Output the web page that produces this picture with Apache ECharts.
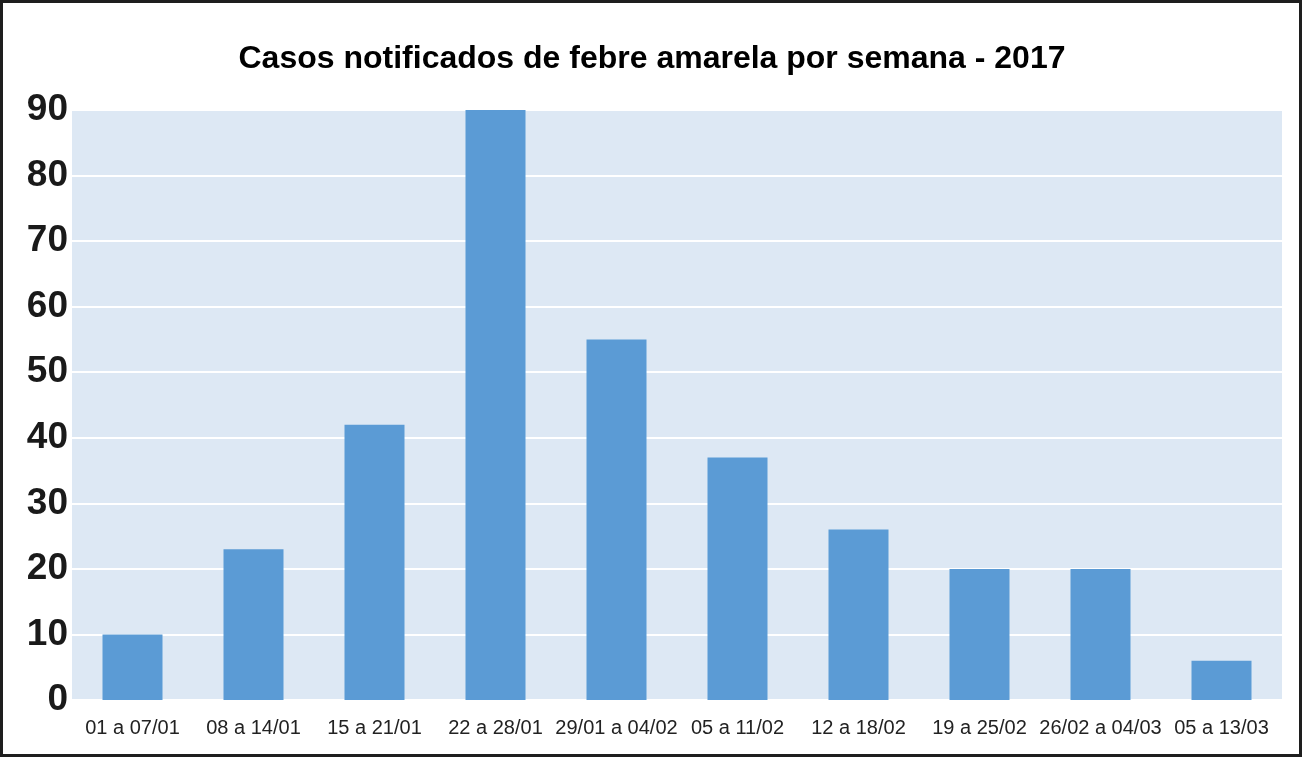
<!DOCTYPE html>
<html>
<head>
    <meta charset="utf-8" />
    <title>Febre amarela 2017</title>
    <script src="https://cdn.jsdelivr.net/npm/echarts@6/dist/echarts.min.js"></script>
    <style>
        html, body { margin: 0; padding: 0; background: #fff; }
        #container { width: 1304px; height: 758px; }
    </style>
</head>
<body>
<div id="container"></div>
<script type="text/javascript">
    // semanas epidemiologicas
    var categories = ['01 a 07/01', '08 a 14/01', '15 a 21/01', '22 a 28/01', '29/01 a 04/02',
        '05 a 11/02', '12 a 18/02', '19 a 25/02', '26/02 a 04/03', '05 a 13/03'];
    // casos notificados
    var casos = [10, 23, 42, 90, 55, 37, 26, 20, 20, 6];
    var titulo = 'Casos notificados de febre amarela por semana - 2017';

    var chart = echarts.init(document.getElementById('container'));

    chart.setOption({
        animation: false,
        title: {
            text: titulo,
            left: 'center',
            top: 38,
            textStyle: {
                fontFamily: 'Liberation Sans',
                fontWeight: 'bold',
                fontSize: 32,
                color: '#000'
            }
        },
        graphic: [{
            type: 'rect',
            shape: { x: 1.5, y: 1.5, width: 1299, height: 754 },
            style: { fill: 'none', stroke: '#1e1e1e', lineWidth: 3 }
        }],
        grid: {
            left: 72,
            right: 22,
            top: 110,
            bottom: 58,
            show: true,
            backgroundColor: '#dde8f4',
            borderWidth: 0
        },
        xAxis: {
            type: 'category',
            data: categories,
            axisLine: { show: false },
            axisTick: { show: false },
            axisLabel: {
                interval: 0,
                margin: 18,
                fontFamily: 'Liberation Sans',
                fontSize: 20,
                color: '#222'
            }
        },
        yAxis: {
            type: 'value',
            min: 0,
            max: 90,
            interval: 10,
            axisLine: { show: false },
            axisTick: { show: false },
            splitLine: { lineStyle: { color: '#ffffff', width: 2 } },
            axisLabel: {
                margin: 4,
                fontFamily: 'Liberation Sans',
                fontWeight: 'bold',
                fontSize: 37,
                color: '#1a1a1a'
            }
        },
        series: [{
            name: 'Casos',
            type: 'bar',
            data: casos,
            barWidth: 60,
            itemStyle: { color: '#5b9bd5' }
        }]
    });
</script>
</body>
</html>
